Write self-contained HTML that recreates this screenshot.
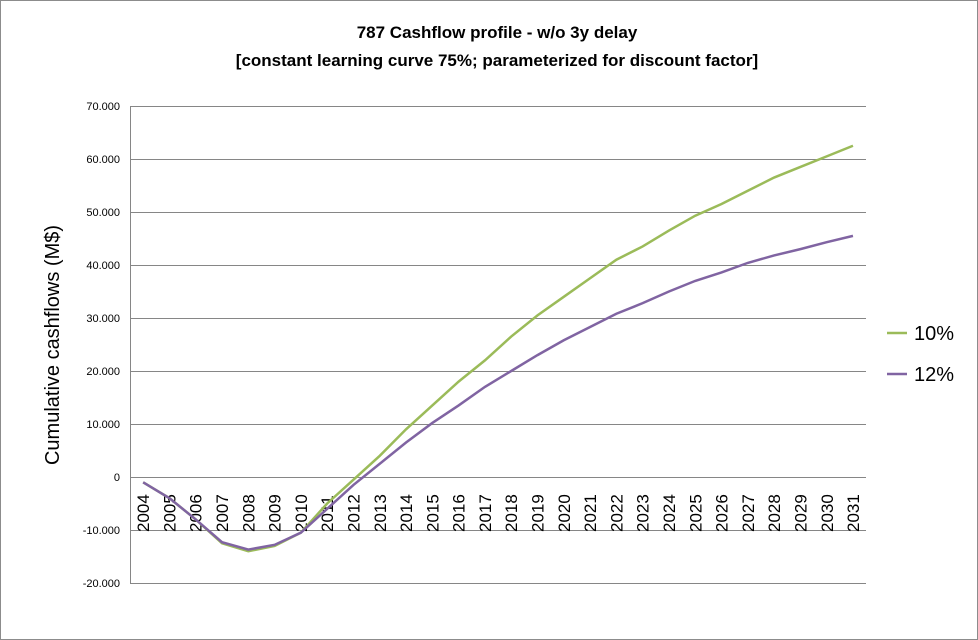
<!DOCTYPE html>
<html><head><style>body{margin:0;background:#fff}svg{display:block}</style></head><body>
<svg width="978" height="640" xmlns="http://www.w3.org/2000/svg" font-family="Liberation Sans, sans-serif">
<rect x="0.5" y="0.5" width="977" height="639" fill="#fff" stroke="#8c8c8c"/>
<text x="497" y="38" text-anchor="middle" font-size="17" font-weight="bold">787 Cashflow profile - w/o 3y delay</text>
<text x="497" y="66" text-anchor="middle" font-size="17" font-weight="bold">[constant learning curve 75%; parameterized for discount factor]</text>
<g stroke="#868686" stroke-width="1">
<line x1="130" y1="106.5" x2="866" y2="106.5"/><line x1="130" y1="159.5" x2="866" y2="159.5"/><line x1="130" y1="212.5" x2="866" y2="212.5"/><line x1="130" y1="265.5" x2="866" y2="265.5"/><line x1="130" y1="318.5" x2="866" y2="318.5"/><line x1="130" y1="371.5" x2="866" y2="371.5"/><line x1="130" y1="424.5" x2="866" y2="424.5"/><line x1="130" y1="477.5" x2="866" y2="477.5"/><line x1="130" y1="530.5" x2="866" y2="530.5"/><line x1="130" y1="583.5" x2="866" y2="583.5"/>
<line x1="130.5" y1="106" x2="130.5" y2="583"/>
</g>
<g font-size="11" text-anchor="end">
<text x="120" y="110">70.000</text><text x="120" y="163">60.000</text><text x="120" y="216">50.000</text><text x="120" y="269">40.000</text><text x="120" y="322">30.000</text><text x="120" y="375">20.000</text><text x="120" y="428">10.000</text><text x="120" y="481">0</text><text x="120" y="534">-10.000</text><text x="120" y="587">-20.000</text>
</g>
<text transform="translate(59,345) rotate(-90)" text-anchor="middle" font-size="20">Cumulative cashflows (M$)</text>
<g font-size="17">
<text transform="translate(149.1,532) rotate(-90)">2004</text>
<text transform="translate(175.4,532) rotate(-90)">2005</text>
<text transform="translate(201.7,532) rotate(-90)">2006</text>
<text transform="translate(228.0,532) rotate(-90)">2007</text>
<text transform="translate(254.3,532) rotate(-90)">2008</text>
<text transform="translate(280.6,532) rotate(-90)">2009</text>
<text transform="translate(306.9,532) rotate(-90)">2010</text>
<text transform="translate(333.2,532) rotate(-90)">2011</text>
<text transform="translate(359.5,532) rotate(-90)">2012</text>
<text transform="translate(385.8,532) rotate(-90)">2013</text>
<text transform="translate(412.1,532) rotate(-90)">2014</text>
<text transform="translate(438.4,532) rotate(-90)">2015</text>
<text transform="translate(464.7,532) rotate(-90)">2016</text>
<text transform="translate(490.9,532) rotate(-90)">2017</text>
<text transform="translate(517.2,532) rotate(-90)">2018</text>
<text transform="translate(543.5,532) rotate(-90)">2019</text>
<text transform="translate(569.8,532) rotate(-90)">2020</text>
<text transform="translate(596.1,532) rotate(-90)">2021</text>
<text transform="translate(622.4,532) rotate(-90)">2022</text>
<text transform="translate(648.7,532) rotate(-90)">2023</text>
<text transform="translate(675.0,532) rotate(-90)">2024</text>
<text transform="translate(701.3,532) rotate(-90)">2025</text>
<text transform="translate(727.6,532) rotate(-90)">2026</text>
<text transform="translate(753.9,532) rotate(-90)">2027</text>
<text transform="translate(780.2,532) rotate(-90)">2028</text>
<text transform="translate(806.5,532) rotate(-90)">2029</text>
<text transform="translate(832.8,532) rotate(-90)">2030</text>
<text transform="translate(859.1,532) rotate(-90)">2031</text>
</g>
<polyline id="g" fill="none" stroke="#9bbb59" stroke-width="2.5"/>
<polyline id="p" fill="none" stroke="#8064a2" stroke-width="2.5"/>
<line x1="887" y1="333" x2="907" y2="333" stroke="#9bbb59" stroke-width="2.5"/>
<text x="914" y="340" font-size="20">10%</text>
<line x1="887" y1="374" x2="907" y2="374" stroke="#8064a2" stroke-width="2.5"/>
<text x="914" y="381" font-size="20">12%</text>
<script>
var a=[-1,-4,-8,-12.5,-14,-13,-10.5,-5,-0.5,4,9,13.5,18,22,26.5,30.5,34,37.5,41,43.5,46.5,49.3,51.5,54,56.5,58.5,60.5,62.5];
var b=[-1,-4,-8,-12.3,-13.7,-12.8,-10.5,-6,-1.5,2.5,6.5,10.2,13.5,17,20,23,25.8,28.3,30.8,32.8,35,37,38.6,40.4,41.8,43,44.3,45.5];
function X(i){return 130+26.29*(i+0.5)}function Y(v){return 477-5.3*v}
document.getElementById('g').setAttribute('points',a.map((v,i)=>X(i)+','+Y(v)).join(' '));
document.getElementById('p').setAttribute('points',b.map((v,i)=>X(i)+','+Y(v)).join(' '));
</script>
</svg>
</body></html>
